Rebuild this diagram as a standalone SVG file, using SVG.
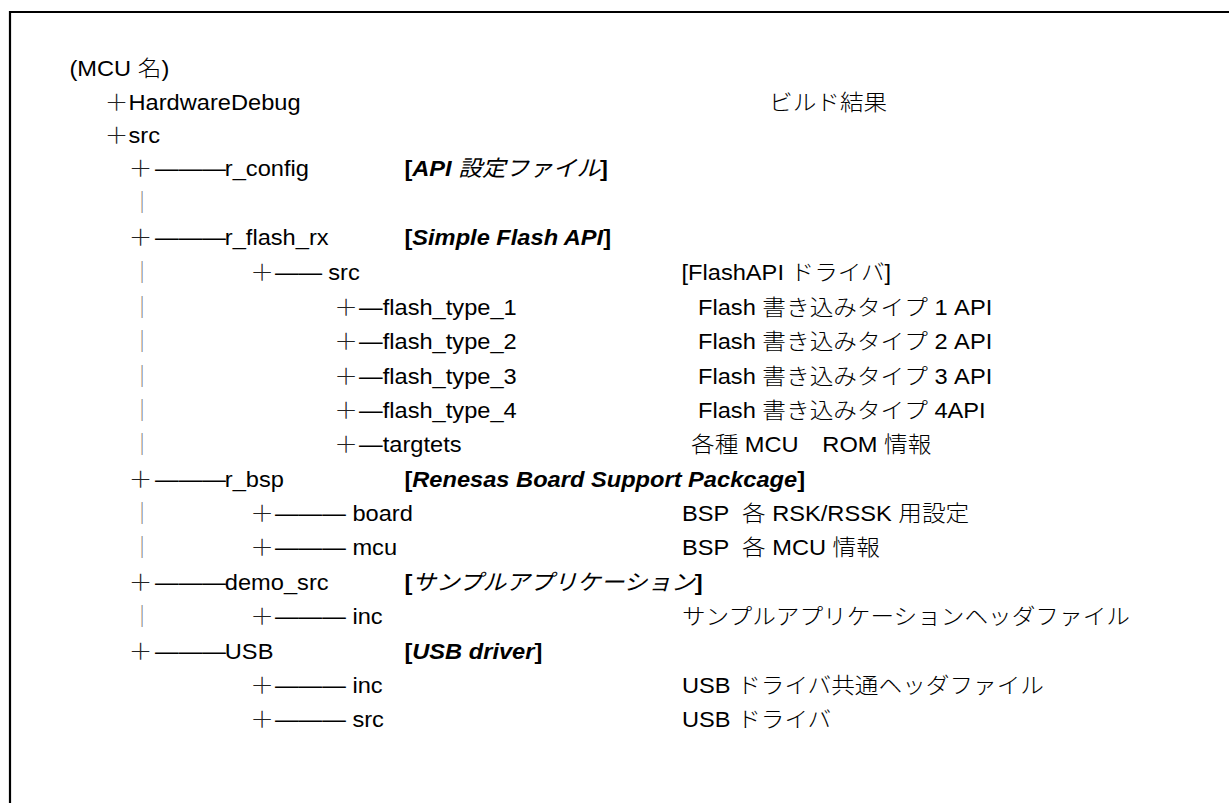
<svg xmlns="http://www.w3.org/2000/svg" width="1229" height="803" viewBox="0 0 1229 803">
<style>
  text { font-family: "Liberation Sans", "Noto Sans CJK JP", sans-serif; font-size: 22px; fill: #000; font-weight: 300; }
  .j { font-family: "Noto Sans CJK JP", sans-serif; font-weight: 300; }
  .b { font-weight: 700; }
  .bi { font-weight: 700; font-style: italic; }
  .ji { font-family: "Noto Sans CJK JP", sans-serif; font-style: italic; font-weight: 400; }
  .plus { font-family: "Noto Sans CJK JP", sans-serif; font-weight: 300; text-anchor: middle; fill: #222; }
  .bar { font-family: "Noto Sans CJK JP", sans-serif; font-weight: 300; text-anchor: middle; fill: #7a7a7a; }
  .dash { font-family: "Liberation Sans", sans-serif; font-weight: 400; }
</style>
<rect width="1229" height="803" fill="#fff"/>
<path d="M10 803 V12 H1229" fill="none" stroke="#000" stroke-width="2.2"/>
<g transform="scale(1.075 1)">
  <g id="connectors">
    <text class="plus" x="108.37" y="110">＋</text>
    <text class="plus" x="108.37" y="143">＋</text>
    <text class="plus" x="130.70" y="176">＋</text><text class="dash" x="144.19" y="176">———</text>
    <text class="bar" x="132.09" y="210">｜</text>
    <text class="plus" x="130.70" y="245">＋</text><text class="dash" x="144.19" y="245">———</text>
    <text class="bar" x="132.09" y="280">｜</text><text class="plus" x="243.72" y="280">＋</text><text class="dash" x="255.81" y="280">——</text>
    <text class="bar" x="132.09" y="315">｜</text><text class="plus" x="321.86" y="315">＋</text><text class="dash" x="333.95" y="315">—</text>
    <text class="bar" x="132.09" y="349">｜</text><text class="plus" x="321.86" y="349">＋</text><text class="dash" x="333.95" y="349">—</text>
    <text class="bar" x="132.09" y="384">｜</text><text class="plus" x="321.86" y="384">＋</text><text class="dash" x="333.95" y="384">—</text>
    <text class="bar" x="132.09" y="418">｜</text><text class="plus" x="321.86" y="418">＋</text><text class="dash" x="333.95" y="418">—</text>
    <text class="bar" x="132.09" y="452">｜</text><text class="plus" x="321.86" y="452">＋</text><text class="dash" x="333.95" y="452">—</text>
    <text class="plus" x="130.70" y="487">＋</text><text class="dash" x="144.19" y="487">———</text>
    <text class="bar" x="132.09" y="521">｜</text><text class="plus" x="243.72" y="521">＋</text><text class="dash" x="255.81" y="521">———</text>
    <text class="bar" x="132.09" y="555">｜</text><text class="plus" x="243.72" y="555">＋</text><text class="dash" x="255.81" y="555">———</text>
    <text class="plus" x="130.70" y="590">＋</text><text class="dash" x="144.19" y="590">———</text>
    <text class="bar" x="132.09" y="624">｜</text><text class="plus" x="243.72" y="624">＋</text><text class="dash" x="255.81" y="624">———</text>
    <text class="plus" x="130.70" y="659">＋</text><text class="dash" x="144.19" y="659">———</text>
    <text class="plus" x="243.72" y="693">＋</text><text class="dash" x="255.81" y="693">———</text>
    <text class="plus" x="243.72" y="727">＋</text><text class="dash" x="255.81" y="727">———</text>
  </g>
  <g id="root"><text x="64.65" y="76">(MCU <tspan class="j">名</tspan>)</text></g>
  <g id="hardwaredebug"><text x="119.53" y="110">HardwareDebug</text><text class="j" x="715.35" y="110">ビルド結果</text></g>
  <g id="src"><text x="119.53" y="143">src</text></g>
  <g id="r_config"><text x="209.12" y="176">r_config</text><text x="376.19" y="176"><tspan class="b">[</tspan><tspan class="bi">API </tspan><tspan class="ji">設定ファイル</tspan><tspan class="b">]</tspan></text></g>
  <g id="r_flash_rx"><text x="209.12" y="245">r_flash_rx</text><text x="376.19" y="245"><tspan class="b">[</tspan><tspan class="bi">Simple Flash API</tspan><tspan class="b">]</tspan></text></g>
  <g id="flash_src"><text x="305.40" y="280">src</text><text x="633.95" y="280">[FlashAPI <tspan class="j">ドライバ</tspan>]</text></g>
  <g id="flash_type_1"><text x="356.0" y="315">flash_type_1</text><text x="649.3" y="315">Flash <tspan class="j">書き込みタイプ</tspan> 1 API</text></g>
  <g id="flash_type_2"><text x="356.0" y="349">flash_type_2</text><text x="649.3" y="349">Flash <tspan class="j">書き込みタイプ</tspan> 2 API</text></g>
  <g id="flash_type_3"><text x="356.0" y="384">flash_type_3</text><text x="649.3" y="384">Flash <tspan class="j">書き込みタイプ</tspan> 3 API</text></g>
  <g id="flash_type_4"><text x="356.0" y="418">flash_type_4</text><text x="649.3" y="418">Flash <tspan class="j">書き込みタイプ</tspan> 4API</text></g>
  <g id="targtets"><text x="356.0" y="452">targtets</text><text x="642.79" y="452"><tspan class="j">各種</tspan> MCU<tspan class="j">　</tspan>ROM <tspan class="j">情報</tspan></text></g>
  <g id="r_bsp"><text x="209.12" y="487">r_bsp</text><text x="376.19" y="487"><tspan class="b">[</tspan><tspan class="bi">Renesas Board Support Packcage</tspan><tspan class="b">]</tspan></text></g>
  <g id="board"><text x="327.81" y="521">board</text><text x="634.42" y="521" xml:space="preserve">BSP  <tspan class="j">各</tspan> RSK/RSSK <tspan class="j">用設定</tspan></text></g>
  <g id="mcu"><text x="327.81" y="555">mcu</text><text x="634.42" y="555" xml:space="preserve">BSP  <tspan class="j">各</tspan> MCU <tspan class="j">情報</tspan></text></g>
  <g id="demo_src"><text x="209.12" y="590">demo_src</text><text x="376.19" y="590"><tspan class="b">[</tspan><tspan class="ji">サンプルアプリケーション</tspan><tspan class="b">]</tspan></text></g>
  <g id="demo_inc"><text x="327.81" y="624">inc</text><text class="j" x="634.42" y="624">サンプルアプリケーションヘッダファイル</text></g>
  <g id="usb"><text x="209.12" y="659">USB</text><text x="376.19" y="659"><tspan class="b">[</tspan><tspan class="bi">USB driver</tspan><tspan class="b">]</tspan></text></g>
  <g id="usb_inc"><text x="327.81" y="693">inc</text><text x="634.42" y="693">USB <tspan class="j">ドライバ共通ヘッダファイル</tspan></text></g>
  <g id="usb_src"><text x="327.81" y="727">src</text><text x="634.42" y="727">USB <tspan class="j">ドライバ</tspan></text></g>
</g>
</svg>
